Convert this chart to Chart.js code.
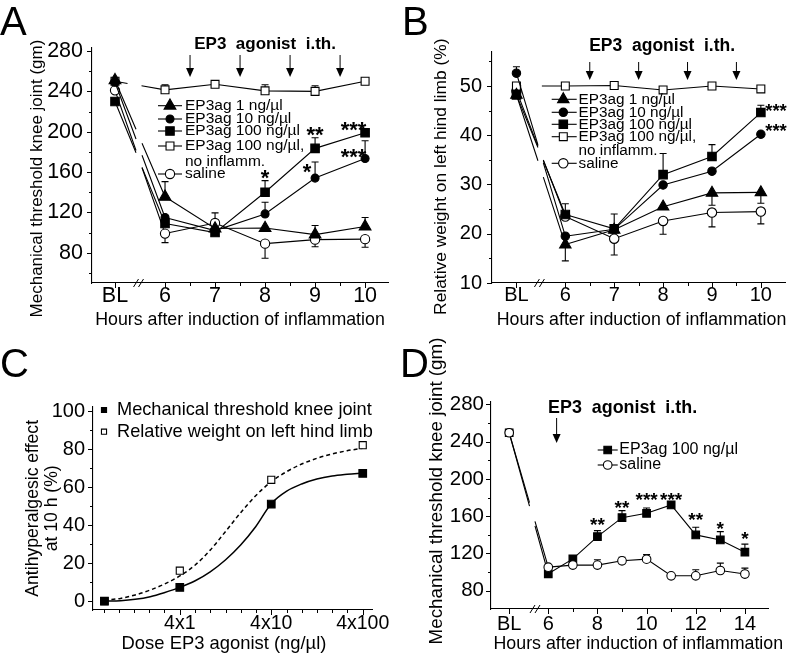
<!DOCTYPE html>
<html>
<head>
<meta charset="utf-8">
<script src="https://cdn.jsdelivr.net/npm/chart.js@4.4.1/dist/chart.umd.min.js"></script>
<style>
  body { margin: 0; background: #fff; width: 793px; height: 656px; overflow: hidden; position: relative; }
  canvas { position: absolute; }
</style>
</head>
<body>
<canvas id="cA" width="396" height="330" style="left:0;top:0"></canvas>
<canvas id="cB" width="397" height="330" style="left:396px;top:0"></canvas>
<canvas id="cC" width="396" height="326" style="left:0;top:330px"></canvas>
<canvas id="cD" width="397" height="326" style="left:396px;top:330px"></canvas>
<script>
// ---- data ----
// A / B: BL and hours after induction
const hoursAB = [5, 6, 7, 8, 9, 10];
const hourLabelsAB = ['BL', '6', '7', '8', '9', '10'];
const injectAB = [6.5, 7.5, 8.5, 9.5];

// A: mechanical threshold knee joint (gm); err = signed error bar
const a1ng = [251, 135.5, 104, 104.5, 98, 106];
const a1ngErr = [0, 15, 0, 0, 9, 9];
const a10ng = [249, 115, 102, 118.5, 154, 173.5];
const a10ngErr = [0, 0, 0, 11.5, 16, 17.5];
const a100ng = [230, 109, 100, 140, 183.5, 199];
const a100ngErr = [0, 0, 0, 11.5, 10.5, 0];
const aNoInfl = [250, 241.5, 247, 240.5, 240, 250];
const aNoInflErr = [0, 5, 2, 6, 5.5, 0];
const aSaline = [241, 99, 109.5, 89, 93, 93.5];
const aSalineErr = [0, -9, 10, -14.5, -7, -8];
const aTicksY = [80, 120, 160, 200, 240, 280];
const starsA = [{ x: 8, y: 159, t: '*' }, { x: 9, y: 202, t: '**' }, { x: 8.84, y: 165, t: '*' },
                { x: 9.77, y: 206.5, t: '***' }, { x: 9.77, y: 180, t: '***' }];

// B: relative weight on left hind limb (%)
const b1ng = [48.2, 17.8, 20.8, 25.5, 28.3, 28.4];
const b1ngErr = [0, -3.3, 0, 0, -2.5, -2.2];
const b10ng = [52.6, 19.5, 20.9, 29.9, 32.7, 40.2];
const b10ngErr = [1.3, 0, 0, 0, 0, 0];
const b100ng = [48.2, 23.9, 21.0, 32.0, 35.7, 44.6];
const b100ngErr = [0, 2.2, 3, 4.3, 2.4, 1.5];
const bNoInfl = [50, 50, 50.1, 49.2, 50, 49.4];
const bSaline = [49, 23.5, 19.0, 22.6, 24.3, 24.5];
const bSalineErr = [0, 0, -3.3, -2.7, -2.9, -2.5];
const bTicksY = [10, 20, 30, 40, 50];
const starsB = [{ x: 10.31, y: 45.8, t: '***' }, { x: 10.31, y: 41.7, t: '***' }];

// C: antihyperalgesic effect at 10 h (%) vs dose
const doseX = [0.6, 4, 40, 400];
const doseTicks = [4, 40, 400];
const doseLabels = ['4x1', '4x10', '4x100'];
const doseMinor = [0.59, 0.86, 1.27, 1.86, 2.72, 5.9, 8.6, 12.7, 18.6, 27.2, 59, 86, 127, 186, 272];
const cMech = [0, 7.2, 51, 67.2];
const cWeight = [0, 16, 63.8, 82];
const fitX = [0.6, 0.9, 1.3, 1.9, 2.7, 4, 5.9, 8.6, 12.6, 18.5, 27, 40, 59, 86, 126, 185, 270, 400];
const fitMech = [0, 0.2, 0.9, 2.3, 4.4, 7.2, 10.7, 15.4, 21.6, 29.5, 39.1, 51.2, 57.8, 61.6, 64.2, 65.8, 66.7, 67.4];
const fitWeight = [0.5, 1.4, 3.2, 5.8, 8.9, 13.2, 19, 26.8, 36.5, 46.5, 55.4, 62.8, 68.1, 72.1, 75.1, 77.4, 79.1, 80.4];
const cTicksY = [0, 20, 40, 60, 80, 100];

// D: mechanical threshold knee joint (gm), longer time course
const hoursD = [4.41, 6, 7, 8, 9, 10, 11, 12, 13, 14];
const dTicksX = [4.41, 6, 8, 10, 12, 14];
const dLabelsX = ['BL', '6', '8', '10', '12', '14'];
const d100ng = [249.5, 98.2, 114.2, 138.1, 158.4, 163.1, 172, 139.9, 134.5, 121.4];
const d100ngErr = [0, 0, 3, 6.4, 7.5, 5.7, 3.5, 8.2, 8.9, 8.6];
const dSaline = [249.5, 105.3, 107.5, 107.5, 112.1, 113.9, 96, 96, 101.7, 97.9];
const dSalineErr = [0, 0, 0, 5.7, 3.9, 4.9, 0, 6.5, 7.9, 6.4];
const dTicksY = [80, 120, 160, 200, 240, 280];
const injectD = [6.34];
const starsD = [{ x: 8, y: 155.2, t: '**' }, { x: 9, y: 173.8, t: '**' }, { x: 10, y: 182.7, t: '***' },
                { x: 11, y: 182.7, t: '***' }, { x: 12, y: 161.3, t: '**' }, { x: 13, y: 151.7, t: '*' },
                { x: 14, y: 140.6, t: '*' }];

// ---- drawing ----
const FONT = '"Liberation Sans", Arial, Helvetica, sans-serif';
Chart.defaults.font.family = FONT;
Chart.defaults.color = '#000';

const DECOR = {};

function pts(xs, ys) { return xs.map((x, i) => ({ x: x, y: ys[i] })); }

// broken first segment (axis break between BL and 6 h)
function gapSeg(a, b) {
  return {
    borderDash: c => {
      if (c.p0DataIndex !== 0) return undefined;
      const L = Math.hypot(c.p1.x - c.p0.x, c.p1.y - c.p0.y);
      return [L * a, L * (b - a), L * 2];
    }
  };
}

function series(xs, ys, err, style, r, filled, gap) {
  const ds = {
    data: pts(xs, ys), err: err,
    borderColor: '#000', borderWidth: 1.1,
    pointStyle: style, pointRadius: r, pointHoverRadius: r,
    pointBackgroundColor: filled ? '#000' : '#fff',
    pointBorderColor: '#000', pointBorderWidth: 1.1,
    fill: false, tension: 0, clip: false
  };
  if (gap) ds.segment = gapSeg(gap[0], gap[1]);
  return ds;
}

function mark(ctx, style, r, x, y, fill) {
  ctx.beginPath();
  if (style === 'circle') {
    ctx.arc(x, y, r, 0, Math.PI * 2);
  } else if (style === 'rect') {
    const s = r * Math.SQRT1_2;
    ctx.rect(x - s, y - s, 2 * s, 2 * s);
  } else {
    for (let k = 0; k < 3; k++) {
      const an = k * 2 * Math.PI / 3;
      const px = x + Math.sin(an) * r, py = y - Math.cos(an) * r;
      if (k === 0) ctx.moveTo(px, py); else ctx.lineTo(px, py);
    }
    ctx.closePath();
  }
  ctx.fillStyle = fill;
  ctx.fill();
  ctx.stroke();
}

const decor = {
  id: 'decor',
  beforeDatasetsDraw(chart) {
    const xs = chart.scales.x, ys = chart.scales.y, ctx = chart.ctx;
    ctx.save();
    ctx.strokeStyle = '#000';
    ctx.lineWidth = 1.1;
    chart.data.datasets.forEach(ds => {
      if (!ds.err) return;
      ds.data.forEach((p, i) => {
        const e = ds.err[i];
        if (!e) return;
        const x = xs.getPixelForValue(p.x);
        const y0 = ys.getPixelForValue(p.y), y1 = ys.getPixelForValue(p.y + e);
        ctx.beginPath();
        ctx.moveTo(x, y0); ctx.lineTo(x, y1);
        ctx.moveTo(x - 3.5, y1); ctx.lineTo(x + 3.5, y1);
        ctx.stroke();
      });
    });
    ctx.restore();
  },
  afterDraw(chart) {
    const o = DECOR[chart.canvas.id];
    if (!o) return;
    const ctx = chart.ctx, a = chart.chartArea, xs = chart.scales.x, ys = chart.scales.y;
    ctx.save();
    ctx.strokeStyle = '#000';
    ctx.fillStyle = '#000';
    ctx.lineWidth = 1;

    // tick marks
    ctx.beginPath();
    const tickX = (vals, len) => (vals || []).forEach(v => {
      const p = Math.round(xs.getPixelForValue(v)) + 0.5;
      ctx.moveTo(p, a.bottom); ctx.lineTo(p, a.bottom + len);
    });
    const tickY = (vals, len) => (vals || []).forEach(v => {
      const p = Math.round(ys.getPixelForValue(v)) + 0.5;
      ctx.moveTo(a.left - len, p); ctx.lineTo(a.left, p);
    });
    tickX(o.xMajor, 5); tickX(o.xMinor, 3);
    tickY(o.yMajor, 5); tickY(o.yMinor, 3);
    ctx.stroke();

    // axis break
    if (o.breakAt) {
      const p = xs.getPixelForValue(o.breakAt), y = a.bottom;
      ctx.beginPath();
      [-2.5, 2.5].forEach(d => { ctx.moveTo(p + d - 2.5, y + 4); ctx.lineTo(p + d + 2.5, y - 4); });
      ctx.stroke();
    }

    // injection arrows
    (o.arrows || []).forEach(v => {
      const x = xs.getPixelForValue(v);
      ctx.beginPath();
      ctx.moveTo(x, o.arrowY[0]); ctx.lineTo(x, o.arrowY[1] - 8);
      ctx.stroke();
      ctx.beginPath();
      ctx.moveTo(x - 4, o.arrowY[1] - 9); ctx.lineTo(x + 4, o.arrowY[1] - 9); ctx.lineTo(x, o.arrowY[1]);
      ctx.closePath();
      ctx.fill();
    });

    if (o.head) {
      ctx.font = 'bold ' + o.head.size + 'px ' + FONT;
      ctx.textAlign = o.head.align;
      ctx.textBaseline = 'alphabetic';
      ctx.fillText(o.head.text, xs.getPixelForValue(o.head.x), o.head.y);
    }

    // significance stars
    if (o.stars) {
      ctx.font = 'bold ' + o.starSize + 'px ' + FONT;
      ctx.textAlign = 'center';
      ctx.textBaseline = 'alphabetic';
      o.stars.forEach(s => {
        ctx.fillText(s.t, xs.getPixelForValue(s.x), ys.getPixelForValue(s.y) + 0.56 * o.starSize);
      });
    }

    // legend
    if (o.legend) {
      const L = o.legend;
      L.rows.forEach(r => {
        if (r.ds !== undefined) {
          const ds = chart.data.datasets[r.ds];
          ctx.lineWidth = 1.1;
          if (L.x0 !== undefined) {
            ctx.beginPath(); ctx.moveTo(L.x0, r.y); ctx.lineTo(L.x1, r.y); ctx.stroke();
          }
          mark(ctx, ds.pointStyle, r.r || ds.pointRadius, L.xm, r.y, ds.pointBackgroundColor);
        }
        ctx.fillStyle = '#000';
        ctx.font = L.size + 'px ' + FONT;
        ctx.textAlign = 'left';
        ctx.textBaseline = 'middle';
        ctx.fillText(r.text, L.tx, r.y);
      });
    }

    // axis titles and panel letter
    ctx.fillStyle = '#000';
    if (o.xTitle) {
      ctx.font = o.xTitle.size + 'px ' + FONT;
      ctx.textAlign = 'center';
      ctx.textBaseline = 'alphabetic';
      ctx.fillText(o.xTitle.text, o.xTitle.x, o.xTitle.y);
    }
    if (o.yTitle) {
      ctx.font = o.yTitle.size + 'px ' + FONT;
      ctx.textAlign = 'center';
      ctx.textBaseline = 'middle';
      o.yTitle.lines.forEach((t, i) => {
        ctx.save();
        ctx.translate(o.yTitle.xs[i], o.yTitle.y);
        ctx.rotate(-Math.PI / 2);
        ctx.fillText(t, 0, 0);
        ctx.restore();
      });
    }
    if (o.letter) {
      ctx.font = '40px ' + FONT;
      ctx.textAlign = 'left';
      ctx.textBaseline = 'alphabetic';
      ctx.fillText(o.letter.text, o.letter.x, o.letter.y);
    }
    ctx.restore();
  }
};

function makeChart(id, datasets, c) {
  DECOR[id] = c.decor;
  return new Chart(document.getElementById(id), {
    type: 'line',
    data: { datasets: datasets },
    options: {
      responsive: false, animation: false, events: [],
      layout: { padding: c.pad },
      plugins: { legend: { display: false }, tooltip: { enabled: false } },
      scales: {
        x: {
          type: c.xType || 'linear', min: c.xMin, max: c.xMax,
          afterFit: s => { s.height = c.xH; },
          afterBuildTicks: s => { s.ticks = c.xTicks.map(v => ({ value: v })); },
          ticks: { callback: (v, i) => c.xLabels[i], font: { size: c.xFont }, padding: c.xPad,
                   autoSkip: false, maxRotation: 0, color: '#000' },
          grid: { display: false, drawTicks: false },
          border: { color: '#000', width: 1.1 }
        },
        y: {
          min: c.yMin, max: c.yMax,
          afterFit: s => { s.width = c.yW; },
          afterBuildTicks: s => { s.ticks = c.yTicks.map(v => ({ value: v })); },
          ticks: { font: { size: c.yFont }, padding: c.yPad, color: '#000' },
          grid: { display: false, drawTicks: false },
          border: { color: '#000', width: 1.1 }
        }
      }
    },
    plugins: [decor]
  });
}

// Panel A
makeChart('cA', [
  series(hoursAB, a1ng, a1ngErr, 'triangle', 6.8, true, [0.42, 0.54]),
  series(hoursAB, a10ng, a10ngErr, 'circle', 4, true, [0.42, 0.54]),
  series(hoursAB, a100ng, a100ngErr, 'rect', 6, true, [0.42, 0.54]),
  series(hoursAB, aNoInfl, aNoInflErr, 'rect', 5.6, false, [0.25, 0.53]),
  series(hoursAB, aSaline, aSalineErr, 'circle', 4.6, false, [0.42, 0.54])
], {
  pad: { left: 0, right: 6, top: 48, bottom: 0 },
  xMin: 4.54, xMax: 10.46, xH: 47, xTicks: hoursAB, xLabels: hourLabelsAB, xFont: 21.5, xPad: 0,
  yMin: 50, yMax: 283, yW: 92, yTicks: aTicksY, yFont: 21.5, yPad: 9,
  decor: {
    letter: { text: 'A', x: 0, y: 35 },
    xTitle: { text: 'Hours after induction of inflammation', x: 240, y: 325, size: 17.8 },
    yTitle: { lines: ['Mechanical threshold knee joint (gm)'], xs: [37], y: 178.5, size: 17 },
    xMajor: hoursAB, xMinor: [6.5, 7.5, 8.5, 9.5],
    yMajor: aTicksY, yMinor: [60, 100, 140, 180, 220, 260],
    breakAt: 5.47,
    arrows: injectAB, arrowY: [55, 77],
    head: { text: 'EP3  agonist  i.th.', x: 8, y: 49, size: 17, align: 'center' },
    stars: starsA, starSize: 22,
    legend: {
      x0: 158, x1: 182, xm: 170, tx: 185, size: 15.5,
      rows: [
        { ds: 0, y: 105.7, text: 'EP3ag 1 ng/µl' },
        { ds: 1, y: 119, text: 'EP3ag 10 ng/µl' },
        { ds: 2, y: 131, text: 'EP3ag 100 ng/µl' },
        { ds: 3, y: 146, text: 'EP3ag 100 ng/µl,' },
        { y: 161.3, text: 'no inflamm.' },
        { ds: 4, y: 174, text: 'saline' }
      ]
    }
  }
});

// Panel B
makeChart('cB', [
  series(hoursAB, b1ng, b1ngErr, 'triangle', 6.6, true, [0.44, 0.55]),
  series(hoursAB, b10ng, b10ngErr, 'circle', 4.2, true, [0.44, 0.55]),
  series(hoursAB, b100ng, b100ngErr, 'rect', 6, true, [0.44, 0.55]),
  series(hoursAB, bNoInfl, null, 'rect', 5.6, false, [0.1, 0.52]),
  series(hoursAB, bSaline, bSalineErr, 'circle', 4.7, false, [0.44, 0.55])
], {
  pad: { left: 0, right: 1, top: 52, bottom: 0 },
  xMin: 4.5, xMax: 10.5, xH: 47, xTicks: hoursAB, xLabels: hourLabelsAB, xFont: 20, xPad: 0,
  yMin: 10, yMax: 56.9, yW: 96, yTicks: bTicksY, yFont: 20, yPad: 10,
  decor: {
    letter: { text: 'B', x: 6, y: 35 },
    xTitle: { text: 'Hours after induction of inflammation', x: 245.5, y: 325, size: 17.8 },
    yTitle: { lines: ['Relative weight on left hind limb (%)'], xs: [45.5], y: 176.7, size: 17.4 },
    xMajor: hoursAB, xMinor: [6.5, 7.5, 8.5, 9.5],
    yMajor: bTicksY, yMinor: [15, 25, 35, 45, 55],
    breakAt: 5.47,
    arrows: injectAB, arrowY: [62, 80],
    head: { text: 'EP3  agonist  i.th.', x: 7.98, y: 50.5, size: 17.5, align: 'center' },
    stars: starsB, starSize: 18.5,
    legend: {
      x0: 155.7, x1: 180.7, xm: 167.3, tx: 182.5, size: 15.3,
      rows: [
        { ds: 0, y: 99.3, text: 'EP3ag 1 ng/µl' },
        { ds: 1, y: 112.3, text: 'EP3ag 10 ng/µl' },
        { ds: 2, y: 124.3, text: 'EP3ag 100 ng/µl' },
        { ds: 3, y: 136.7, text: 'EP3ag 100 ng/µl,' },
        { y: 151.2, text: 'no inflamm.' },
        { ds: 4, y: 163.3, text: 'saline' }
      ]
    }
  }
});

// Panel C
const cFitMech = { data: pts(fitX, fitMech), borderColor: '#000', borderWidth: 1.5, pointRadius: 0,
                   cubicInterpolationMode: 'monotone', fill: false, clip: false };
const cFitWeight = { data: pts(fitX, fitWeight), borderColor: '#000', borderWidth: 1.5, borderDash: [4, 3],
                     pointRadius: 0, cubicInterpolationMode: 'monotone', fill: false, clip: false };
const cMechPts = series(doseX, cMech, null, 'rect', 5.4, true, null);
cMechPts.showLine = false;
const cWeightPts = series(doseX, cWeight, null, 'rect', 5, false, null);
cWeightPts.showLine = false;
makeChart('cC', [cMechPts, cWeightPts, cFitMech, cFitWeight], {
  pad: { left: 0, right: 24, top: 77, bottom: 0 },
  xType: 'logarithmic', xMin: 0.45, xMax: 505, xH: 46, xTicks: doseTicks, xLabels: doseLabels, xFont: 19.5, xPad: 2,
  yMin: -4.7, yMax: 102.1, yW: 93, yTicks: cTicksY, yFont: 20, yPad: 8,
  decor: {
    letter: { text: 'C', x: 0, y: 47 },
    xTitle: { text: 'Dose EP3 agonist (ng/µl)', x: 224, y: 319, size: 18.4 },
    yTitle: { lines: ['Antihyperalgesic effect', 'at 10 h (%)'], xs: [33, 52], y: 178.3, size: 17.6 },
    xMajor: doseTicks, xMinor: doseMinor,
    yMajor: cTicksY, yMinor: [10, 30, 50, 70, 90],
    legend: {
      xm: 104, tx: 117, size: 18.2,
      rows: [
        { ds: 0, y: 80, r: 3.6, text: 'Mechanical threshold knee joint' },
        { ds: 1, y: 101.7, r: 3.6, text: 'Relative weight on left hind limb' }
      ]
    }
  }
});

// Panel D
makeChart('cD', [
  series(hoursD, dSaline, dSalineErr, 'circle', 4.3, false, [0.52, 0.66]),
  series(hoursD, d100ng, d100ngErr, 'rect', 5.4, true, [0.52, 0.66])
], {
  pad: { left: 0, right: 25, top: 72, bottom: 0 },
  xMin: 3.67, xMax: 14.94, xH: 47, xTicks: dTicksX, xLabels: dLabelsX, xFont: 20, xPad: 3,
  yMin: 60.4, yMax: 282.5, yW: 95, yTicks: dTicksY, yFont: 20.5, yPad: 7,
  decor: {
    letter: { text: 'D', x: 4, y: 47 },
    xTitle: { text: 'Hours after induction of inflammation', x: 242.3, y: 319, size: 17.8 },
    yTitle: { lines: ['Mechanical threshold knee joint (gm)'], xs: [40.7], y: 161, size: 18.8 },
    xMajor: dTicksX, xMinor: [7, 9, 11, 13],
    yMajor: dTicksY, yMinor: [100, 140, 180, 220, 260],
    breakAt: 5.46,
    arrows: injectD, arrowY: [88, 113],
    head: { text: 'EP3  agonist  i.th.', x: 5.99, y: 83, size: 17.9, align: 'left' },
    stars: starsD, starSize: 19,
    legend: {
      x0: 201.7, x1: 221.7, xm: 211.7, tx: 223.3, size: 16,
      rows: [
        { ds: 1, y: 120, text: 'EP3ag 100 ng/µl' },
        { ds: 0, y: 135, text: 'saline' }
      ]
    }
  }
});
</script>
</body>
</html>
